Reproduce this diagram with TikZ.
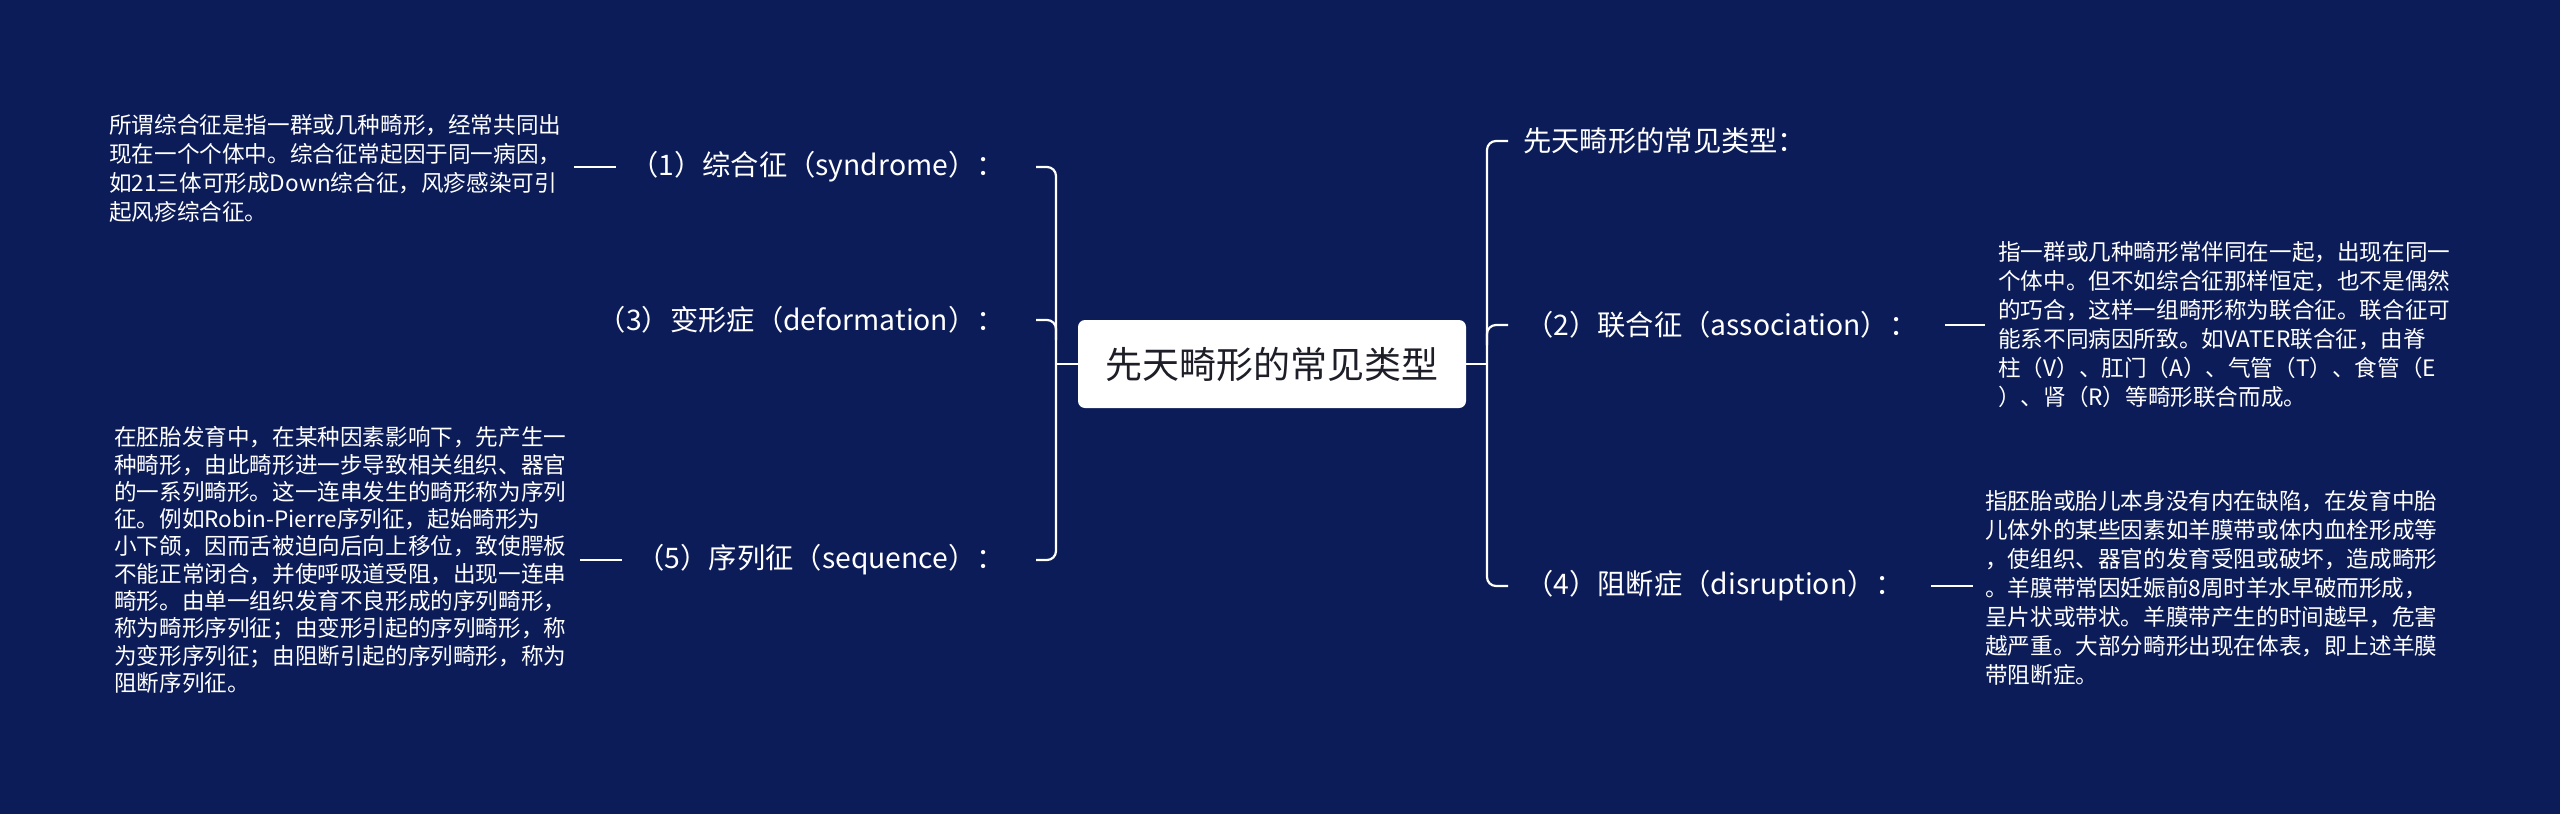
\documentclass[tikz,border=0pt]{standalone}
\usepackage{fontspec}
\setmainfont{Noto Sans CJK SC}
\definecolor{bg}{RGB}{11,28,88}
\definecolor{ctext}{RGB}{30,30,40}
\begin{document}
\begin{tikzpicture}[x=1pt,y=-1pt,
  lbl/.style={text=white,font=\fontsize{28.3}{32}\selectfont,inner sep=0pt},
  desc/.style={text=white,font=\fontsize{22.6}{29}\selectfont,inner sep=0pt,align=left},
  br/.style={draw=white,line width=2.2pt,rounded corners=9pt},
  stub/.style={draw=white,line width=2.2pt}]
\fill[bg] (0,0) rectangle (2560,814);
\useasboundingbox (0,0) rectangle (2560,814);
\node[fill=white,rounded corners=7pt,minimum width=388,minimum height=88,text=ctext,font=\fontsize{37}{42}\selectfont] (c) at (1272,364) {先天畸形的常见类型};
% left
\node[lbl,anchor=east] (l1) at (1005,167) {（1）综合征（syndrome）：};
\node[lbl,anchor=east] (l3) at (1005,320) {（3）变形症（deformation）：};
\node[lbl,anchor=east] (l5) at (1005,560) {（5）序列征（sequence）：};
\coordinate (lm) at (1056,364);
\draw[br] (1036,167) -- (1056,167) -- (1056,560) -- (1036,560);
\draw[br] (1036,320) -- (1056,320) -- (1056,340);
\draw[stub] (c.west) -- (lm);
\node[desc,anchor=west] (d1) at (109,168) {所谓综合征是指一群或几种畸形，经常共同出\\现在一个个体中。综合征常起因于同一病因，\\如21三体可形成Down综合征，风疹感染可引\\起风疹综合征。};
\node[desc,anchor=west,font=\fontsize{22.6}{27.3}\selectfont] (d5) at (114,560) {在胚胎发育中，在某种因素影响下，先产生一\\种畸形，由此畸形进一步导致相关组织、器官\\的一系列畸形。这一连串发生的畸形称为序列\\征。例如Robin-Pierre序列征，起始畸形为\\小下颌，因而舌被迫向后向上移位，致使腭板\\不能正常闭合，并使呼吸道受阻，出现一连串\\畸形。由单一组织发育不良形成的序列畸形，\\称为畸形序列征；由变形引起的序列畸形，称\\为变形序列征；由阻断引起的序列畸形，称为\\阻断序列征。};
\draw[stub] (574,167) -- (616,167);
\draw[stub] (580,560) -- (622,560);
% right
\node[lbl,anchor=west] (r0) at (1523,141) {先天畸形的常见类型：};
\node[lbl,anchor=west] (r2) at (1525,325) {（2）联合征（association）：};
\node[lbl,anchor=west] (r4) at (1525,586) {（4）阻断症（disruption）：};
\draw[br] (1508,141) -- (1487,141) -- (1487,586) -- (1508,586);
\draw[br] (1508,325) -- (1487,325) -- (1487,345);
\draw[stub] (c.east) -- (1487,364);
\draw[stub] (1945,325) -- (1985,325);
\draw[stub] (1931,586) -- (1973,586);
\node[desc,anchor=west] (d2) at (1998,325) {指一群或几种畸形常伴同在一起，出现在同一\\个体中。但不如综合征那样恒定，也不是偶然\\的巧合，这样一组畸形称为联合征。联合征可\\能系不同病因所致。如VATER联合征，由脊\\柱（V）、肛门（A）、气管（T）、食管（E\\）、肾（R）等畸形联合而成。};
\node[desc,anchor=west] (d4) at (1985,588) {指胚胎或胎儿本身没有内在缺陷，在发育中胎\\儿体外的某些因素如羊膜带或体内血栓形成等\\，使组织、器官的发育受阻或破坏，造成畸形\\。羊膜带常因妊娠前8周时羊水早破而形成，\\呈片状或带状。羊膜带产生的时间越早，危害\\越严重。大部分畸形出现在体表，即上述羊膜\\带阻断症。};
\end{tikzpicture}
\end{document}
